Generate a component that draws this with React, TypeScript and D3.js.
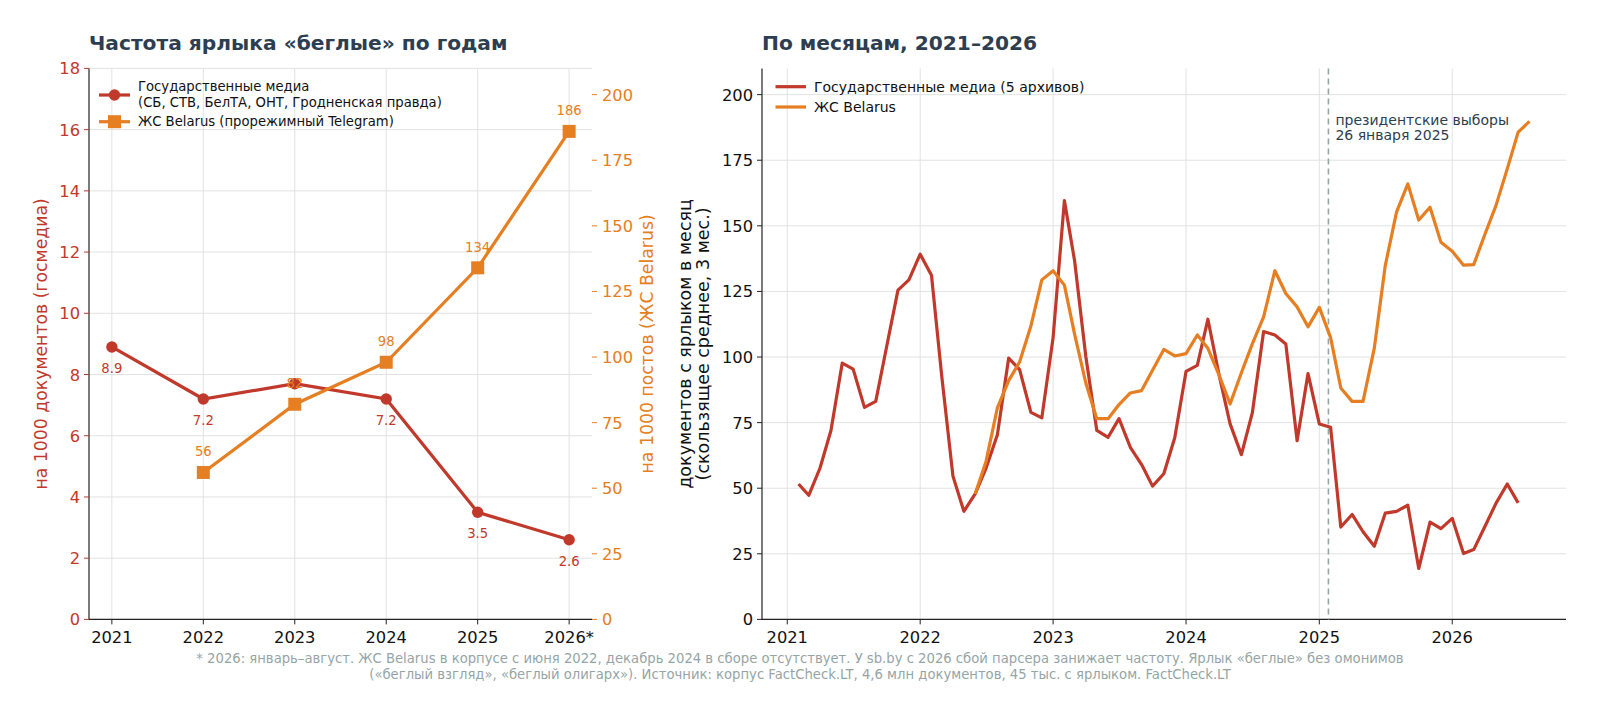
import React from "react";
import * as d3 from "d3";

// ---------- Data ----------
const years = ["2021", "2022", "2023", "2024", "2025", "2026*"];
const stateYearly = [8.9, 7.2, 7.7, 7.2, 3.5, 2.6];
const zhsYears = ["2022", "2023", "2024", "2025", "2026*"];
const zhsYearly = [56, 82, 98, 134, 186];

const stateStart = "2021-02";
const stateMonthly = [
  51.6, 47.3, 57.7, 72, 97.7, 95.4, 80.8, 83.1, 104, 125.5, 129.4,
  139.2, 131.2, 93, 54.6, 41.2, 47.8, 57.7, 70.4, 99.6, 95.2, 78.9, 76.8,
  107.4, 159.6, 136.7, 100, 72, 69.4, 76.5, 65.6, 59, 50.8, 55.5, 69.2,
  94.5, 96.8, 114.4, 93, 74.5, 62.8, 78.7, 109.7, 108.4, 105, 68.1, 93.7,
  74.5, 73.2, 35.2, 40, 33.4, 27.9, 40.5, 41.2, 43.5, 19.4, 37.1, 34.6,
  38.5, 25.1, 26.6, 35.5, 44.2, 51.6, 44.4,
];
const zhsStart = "2022-06";
const zhsMonthly = [
  47.8, 60.3, 80.6, 91, 98.1, 111.8, 129.4,
  132.9, 127.4, 108.7, 90, 76.5, 76.5, 81.9, 86.3, 87.2, 95, 102.9, 100.4,
  101.3, 108.4, 103.3, 93, 82.1, 94, 105, 115.3, 132.9, 124.2, 119.1, 111.5,
  118.9, 107.4, 88.2, 83.1, 83.1, 103.4, 134.8, 155.2, 166, 152.2, 157.1, 143.7,
  140.3, 135, 135.2, 146.9, 157.7, 171.7, 185.7, 189.8,
];
const electionDate = "2025-01-26";
const monthTicks = ["2021", "2022", "2023", "2024", "2025", "2026"];
const leftTicks = [0, 2, 4, 6, 8, 10, 12, 14, 16, 18];
const rightTicks = [0, 25, 50, 75, 100, 125, 150, 175, 200];

const footnote1 =
  "* 2026: январь–август. ЖС Belarus в корпусе с июня 2022, декабрь 2024 в сборе отсутствует. У sb.by с 2026 сбой парсера занижает частоту. Ярлык «беглые» без омонимов";
const footnote2 =
  "(«беглый взгляд», «беглый олигарх»). Источник: корпус FactCheck.LT, 4,6 млн документов, 45 тыс. с ярлыком. FactCheck.LT";

// ---------- Styles ----------
const RED = "#c0392b";
const ORANGE = "#e67e22";
const DARK = "#2c3e50";
const GRAY = "#95a5a6";
const GRID = "#e2e2e2";
const FONT = "DejaVu Sans, sans-serif";
const TICK = 16.3;
const LABEL = 13.2;

function monthSeries(start: string, vals: number[]) {
  const [y, m] = start.split("-").map(Number);
  return vals.map((v, i) => ({ date: new Date(y, m - 1 + i, 1), v }));
}

export default function App() {
  const W = 1600, H = 715;
  const top = 68.4, bottom = 619.4;

  // Left panel
  const L = { x0: 89, x1: 592 };
  const xL = d3.scalePoint<string>().domain(years).range([0, 5]);
  const xLpx = d3.scaleLinear().domain([-0.25, 5.25]).range([L.x0, L.x1]);
  const xl = (c: string) => xLpx(xL(c) as number);
  const yL = d3.scaleLinear().domain([0, 18]).range([bottom, top]);
  const yR = d3.scaleLinear().domain([0, 210]).range([bottom, top]);

  const redPts = years.map((c, i) => [xl(c), yL(stateYearly[i])] as [number, number]);
  const orPts = zhsYears.map((c, i) => [xl(c), yR(zhsYearly[i])] as [number, number]);
  const line = d3.line();
  // a red value label that would sit under an orange marker is hidden by it in the original
  const redLabelHidden = redPts.map((p) =>
    orPts.some((q) => Math.abs(q[0] - p[0]) < 2 && Math.abs(q[1] - (p[1] + 21)) < 10)
  );

  // Right panel
  const R = { x0: 762, x1: 1566 };
  const stateData = monthSeries(stateStart, stateMonthly);
  const zhsData = monthSeries(zhsStart, zhsMonthly);
  const allDates = [...stateData, ...zhsData].map((d) => d.date.getTime());
  const dMin = d3.min(allDates)!, dMax = d3.max(allDates)!;
  const pad = (dMax - dMin) * 0.05;
  const xT = d3.scaleTime().domain([new Date(dMin - pad), new Date(dMax + pad)]).range([R.x0, R.x1]);
  const yT = d3.scaleLinear().domain([0, 210]).range([bottom, top]);
  const tLine = d3
    .line<{ date: Date; v: number }>()
    .x((d) => xT(d.date))
    .y((d) => yT(d.v));
  const elX = xT(new Date(electionDate + "T00:00:00"));

  return (
    <div style={{ position: "fixed", left: 0, top: 0 }}>
      <svg width={W} height={H} style={{ display: "block", background: "#fff", fontFamily: FONT }}>
        {/* ===== Left panel ===== */}
        <text x={L.x0} y={50} fontSize={20.2} fontWeight="bold" fill={DARK}>
          Частота ярлыка «беглые» по годам
        </text>
        {years.map((c) => (
          <line key={"gv" + c} x1={xl(c)} x2={xl(c)} y1={top} y2={bottom} stroke={GRID} strokeWidth={1} />
        ))}
        {leftTicks.map((t) => (
          <line key={"gh" + t} x1={L.x0} x2={L.x1} y1={yL(t)} y2={yL(t)} stroke={GRID} strokeWidth={1} />
        ))}
        <line x1={L.x0} x2={L.x0} y1={top} y2={bottom} stroke="#222" strokeWidth={1.2} />
        <line x1={L.x0} x2={L.x1} y1={bottom} y2={bottom} stroke="#222" strokeWidth={1.2} />
        {leftTicks.map((t) => (
          <g key={"lt" + t}>
            <line x1={L.x0 - 5} x2={L.x0} y1={yL(t)} y2={yL(t)} stroke={RED} strokeWidth={1} />
            <text x={L.x0 - 9} y={yL(t) + 6} fontSize={TICK} fill={RED} textAnchor="end">
              {t}
            </text>
          </g>
        ))}
        {rightTicks.map((t) => (
          <g key={"rt" + t}>
            <line x1={L.x1} x2={L.x1 + 5} y1={yR(t)} y2={yR(t)} stroke={ORANGE} strokeWidth={1} />
            <text x={L.x1 + 10} y={yR(t) + 6} fontSize={TICK} fill={ORANGE} textAnchor="start">
              {t}
            </text>
          </g>
        ))}
        {years.map((c) => (
          <g key={"xt" + c}>
            <line x1={xl(c)} x2={xl(c)} y1={bottom} y2={bottom + 5} stroke="#222" strokeWidth={1} />
            <text x={xl(c)} y={bottom + 24} fontSize={TICK} fill="#111" textAnchor="middle">
              {c}
            </text>
          </g>
        ))}
        <text
          transform={`translate(46.5,${(top + bottom) / 2}) rotate(-90)`}
          fontSize={17.3}
          fill={RED}
          textAnchor="middle"
        >
          на 1000 документов (госмедиа)
        </text>
        <text
          transform={`translate(653,${(top + bottom) / 2}) rotate(-90)`}
          fontSize={17.3}
          fill={ORANGE}
          textAnchor="middle"
        >
          на 1000 постов (ЖС Belarus)
        </text>
        {/* red series */}
        <path d={line(redPts)!} fill="none" stroke={RED} strokeWidth={3.2} />
        {redPts.map((p, i) => (
          <g key={"rp" + i}>
            <circle cx={p[0]} cy={p[1]} r={5.7} fill={RED} />
            {!redLabelHidden[i] && (
              <text x={p[0]} y={p[1] + 26} fontSize={LABEL} fill={RED} textAnchor="middle">
                {stateYearly[i].toFixed(1)}
              </text>
            )}
          </g>
        ))}
        {/* orange series */}
        <path d={line(orPts)!} fill="none" stroke={ORANGE} strokeWidth={3.2} />
        {orPts.map((p, i) => (
          <g key={"op" + i}>
            <rect x={p[0] - 6.5} y={p[1] - 6.5} width={13} height={13} fill={ORANGE} />
            <text x={p[0]} y={p[1] - 16} fontSize={LABEL} fill={ORANGE} textAnchor="middle">
              {zhsYearly[i]}
            </text>
          </g>
        ))}
        {/* legend */}
        <line x1={99} x2={130} y1={95} y2={95} stroke={RED} strokeWidth={3.2} />
        <circle cx={114.5} cy={95} r={5.7} fill={RED} />
        <text x={138} y={91.3} fontSize={13.2} fill="#111">
          Государственные медиа
        </text>
        <text x={138} y={106.8} fontSize={13.2} fill="#111">
          (СБ, СТВ, БелТА, ОНТ, Гродненская правда)
        </text>
        <line x1={99} x2={130} y1={121.7} y2={121.7} stroke={ORANGE} strokeWidth={3.2} />
        <rect x={108} y={115.2} width={13} height={13} fill={ORANGE} />
        <text x={138} y={126.3} fontSize={13.2} fill="#111">
          ЖС Belarus (прорежимный Telegram)
        </text>

        {/* ===== Right panel ===== */}
        <text x={R.x0} y={50} fontSize={20.2} fontWeight="bold" fill={DARK}>
          По месяцам, 2021–2026
        </text>
        {monthTicks.map((t) => {
          const x = xT(new Date(+t, 0, 1));
          return (
            <g key={"mt" + t}>
              <line x1={x} x2={x} y1={top} y2={bottom} stroke={GRID} strokeWidth={1} />
              <line x1={x} x2={x} y1={bottom} y2={bottom + 5} stroke="#222" strokeWidth={1} />
              <text x={x} y={bottom + 24} fontSize={TICK} fill="#111" textAnchor="middle">
                {t}
              </text>
            </g>
          );
        })}
        {rightTicks.map((t) => (
          <g key={"my" + t}>
            <line x1={R.x0} x2={R.x1} y1={yT(t)} y2={yT(t)} stroke={GRID} strokeWidth={1} />
            <line x1={R.x0 - 5} x2={R.x0} y1={yT(t)} y2={yT(t)} stroke="#222" strokeWidth={1} />
            <text x={R.x0 - 9} y={yT(t) + 6} fontSize={TICK} fill="#111" textAnchor="end">
              {t}
            </text>
          </g>
        ))}
        <line x1={R.x0} x2={R.x0} y1={top} y2={bottom} stroke="#222" strokeWidth={1.2} />
        <line x1={R.x0} x2={R.x1} y1={bottom} y2={bottom} stroke="#222" strokeWidth={1.2} />
        <text
          transform={`translate(691,${(top + bottom) / 2}) rotate(-90)`}
          fontSize={17.5}
          fill="#111"
          textAnchor="middle"
        >
          документов с ярлыком в месяц
        </text>
        <text
          transform={`translate(709,${(top + bottom) / 2}) rotate(-90)`}
          fontSize={17.5}
          fill="#111"
          textAnchor="middle"
        >
          (скользящее среднее, 3 мес.)
        </text>
        {/* election line */}
        <line x1={elX} x2={elX} y1={top} y2={bottom} stroke={GRAY} strokeWidth={1.6} strokeDasharray="6,4" />
        <text x={elX + 7} y={124.5} fontSize={14} fill={DARK}>
          президентские выборы
        </text>
        <text x={elX + 7} y={140} fontSize={14} fill={DARK}>
          26 января 2025
        </text>
        {/* series */}
        <path d={tLine(stateData)!} fill="none" stroke={RED} strokeWidth={3.2} strokeLinejoin="round" />
        <path d={tLine(zhsData)!} fill="none" stroke={ORANGE} strokeWidth={3.2} strokeLinejoin="round" />
        {/* legend */}
        <line x1={775.5} x2={806} y1={86.7} y2={86.7} stroke={RED} strokeWidth={3.2} />
        <text x={814} y={91.7} fontSize={14} fill="#111">
          Государственные медиа (5 архивов)
        </text>
        <line x1={775.5} x2={806} y1={107} y2={107} stroke={ORANGE} strokeWidth={3.2} />
        <text x={814} y={112} fontSize={14} fill="#111">
          ЖС Belarus
        </text>

        {/* footnote */}
        <text x={800} y={662.5} fontSize={13.2} fill={GRAY} textAnchor="middle">
          {footnote1}
        </text>
        <text x={800} y={679} fontSize={13.2} fill={GRAY} textAnchor="middle">
          {footnote2}
        </text>
      </svg>
    </div>
  );
}
